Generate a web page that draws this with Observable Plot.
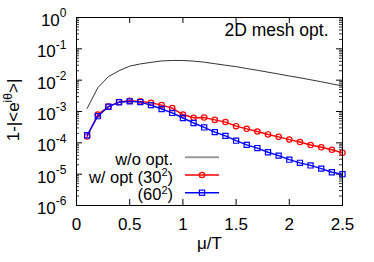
<!DOCTYPE html>
<html><head><meta charset="utf-8">
<script src="https://cdn.jsdelivr.net/npm/d3@7"></script>
<script src="https://cdn.jsdelivr.net/npm/@observablehq/plot@0.6"></script>
<style>html,body{margin:0;padding:0;background:#fff} svg{display:block}</style>
</head><body><div id="chart"></div>
<script>
const mu = [0.1,0.2,0.3,0.4,0.5,0.6,0.7,0.8,0.9,1.0,1.1,1.2,1.3,1.4,1.5,1.6,1.7,1.8,1.9,2.0,2.1,2.2,2.3,2.4,2.5];
const woOpt = [1.25e-3,5.7e-3,1.3e-2,2.0e-2,2.8e-2,3.3e-2,3.7e-2,4.1e-2,4.25e-2,4.25e-2,4.05e-2,3.75e-2,3.35e-2,3.0e-2,2.7e-2,2.35e-2,2.07e-2,1.8e-2,1.57e-2,1.36e-2,1.19e-2,1.03e-2,8.9e-3,7.6e-3,6.5e-3];
const opt30 = [1.6e-4,8.0e-4,1.45e-3,2.0e-3,2.2e-3,2.1e-3,1.9e-3,1.6e-3,1.28e-3,8.0e-4,6.3e-4,6.4e-4,5.4e-4,4.6e-4,3.4e-4,2.8e-4,2.3e-4,1.85e-4,1.55e-4,1.27e-4,1.06e-4,8.5e-5,7.2e-5,6.0e-5,4.8e-5];
const opt60 = [1.75e-4,7.1e-4,1.42e-3,1.97e-3,2.1e-3,2.0e-3,1.6e-3,1.2e-3,9.0e-4,6.2e-4,4.3e-4,3.1e-4,2.2e-4,1.67e-4,1.17e-4,8.6e-5,6.8e-5,5.0e-5,3.9e-5,2.9e-5,2.3e-5,1.9e-5,1.5e-5,1.15e-5,1.0e-5];
const xTicks = [0,0.5,1,1.5,2,2.5];
const xTickLabels = ["0","0.5","1","1.5","2","2.5"];
const yMajor = [1e-6,1e-5,1e-4,1e-3,1e-2,1e-1,1];
const yExponents = ["-6","-5","-4","-3","-2","-1","0"];
const yMinor = [];
for (let e = -6; e < 0; e++) for (let k = 2; k <= 9; k++) yMinor.push(k * Math.pow(10, e));
const xLabel = "μ/T";
const annotation = "2D mesh opt.";
const legendItems = [
  {pre: "w/o opt.", sup: "", post: "", color: "#999999", symbol: null},
  {pre: "w/ opt (30", sup: "2", post: ")", color: "#ff0000", symbol: "circle"},
  {pre: "(60", sup: "2", post: ")", color: "#0000ff", symbol: "square"}
];

const rows = mu.map((m, i) => ({mu: m, wo: woOpt[i], a: opt30[i], b: opt60[i]}));

const W = 374, H = 262, ML = 76, MR = 32, MT = 17, MB = 57;
const PW = W - ML - MR, PH = H - MT - MB;
const font = "'Liberation Sans', Arial, Helvetica, sans-serif";

const plot = Plot.plot({
  width: W, height: H,
  marginLeft: ML, marginRight: MR, marginTop: MT, marginBottom: MB,
  style: {fontFamily: font, fontSize: "17px", background: "#fff", color: "#000", overflow: "visible"},
  x: {domain: [0, 2.5]},
  y: {type: "log", domain: [1e-6, 1]},
  marks: [
    Plot.axisX(xTicks, {tickSize: 0, tickPadding: 12, tickFormat: d => xTickLabels[xTicks.indexOf(d)], label: null, fontSize: 17}),
    Plot.axisY(yMajor, {tickSize: 0, tickPadding: 10, dy: 3, tickFormat: d => yExponents[yMajor.indexOf(d)], label: null, fontSize: 17}),
    Plot.tickY(yMajor, {y: d => d, insetRight: PW - 6, stroke: "#000", strokeWidth: 1}),
    Plot.tickY(yMajor, {y: d => d, insetLeft: PW - 6, stroke: "#000", strokeWidth: 1}),
    Plot.tickY(yMinor, {y: d => d, insetRight: PW - 3, stroke: "#000", strokeWidth: 0.8}),
    Plot.tickY(yMinor, {y: d => d, insetLeft: PW - 3, stroke: "#000", strokeWidth: 0.8}),
    Plot.tickX(xTicks, {x: d => d, insetTop: PH - 6, stroke: "#000", strokeWidth: 1}),
    Plot.tickX(xTicks, {x: d => d, insetBottom: PH - 6, stroke: "#000", strokeWidth: 1}),
    Plot.lineY(rows, {x: "mu", y: "wo", stroke: "#333", strokeWidth: 1}),
    Plot.lineY(rows, {x: "mu", y: "a", stroke: "#ff0000", strokeWidth: 1.4}),
    Plot.dot(rows, {x: "mu", y: "a", symbol: "circle", r: 2.7, stroke: "#ff0000", strokeWidth: 1.2, fill: "none"}),
    Plot.lineY(rows, {x: "mu", y: "b", stroke: "#0000ff", strokeWidth: 1.4}),
    Plot.dot(rows, {x: "mu", y: "b", symbol: "square", r: 2.9, stroke: "#0000ff", strokeWidth: 1.2, fill: "none"}),
    Plot.text([xLabel], {text: d => d, frameAnchor: "bottom", dy: 43, fontSize: 17}),
    Plot.text([annotation], {text: d => d, frameAnchor: "top-right", textAnchor: "end", lineAnchor: "top", dx: -14, dy: 6, fontSize: 17.5}),
    Plot.frame({stroke: "#000", strokeWidth: 1})
  ]
});

const svg = d3.select(plot);
// superscript exponents on y tick labels
svg.selectAll('g[aria-label="y-axis tick label"] text').each(function() {
  const t = d3.select(this);
  const e = t.text();
  t.text(null);
  t.append("tspan").text("10");
  t.append("tspan").attr("font-size", 12).attr("dy", -8.5).text(e);
});

// y axis label
const yl = svg.append("text")
  .attr("transform", `translate(19,110) rotate(-90)`)
  .attr("text-anchor", "middle")
  .attr("font-family", font)
  .attr("font-size", 17)
  .attr("fill", "#000");
yl.append("tspan").text("1-|<e");
yl.append("tspan").attr("font-size", 12).attr("dy", -7.5).text("iθ");
yl.append("tspan").attr("dy", 7.5).text(">|");

// legend
const lg = svg.append("g").attr("font-family", font).attr("font-size", 16.5).attr("fill", "#000");
const rowY = [MT + PH - 47.7, MT + PH - 30, MT + PH - 12.3];
const textRight = ML + 97, lineX1 = ML + 109, lineX2 = ML + 143;
legendItems.forEach((it, i) => {
  const y = rowY[i];
  const tx = lg.append("text").attr("x", textRight).attr("y", y + 2).attr("dy", "0.35em").attr("text-anchor", "end");
  tx.append("tspan").text(it.pre);
  if (it.sup) {
    tx.append("tspan").attr("font-size", 11).attr("dy", -6.5).text(it.sup);
    tx.append("tspan").attr("dy", 6.5).text(it.post);
  }
  lg.append("line").attr("x1", lineX1).attr("x2", lineX2).attr("y1", y).attr("y2", y)
    .attr("stroke", it.color).attr("stroke-width", it.symbol ? 1.4 : 2);
  const cx = (lineX1 + lineX2) / 2;
  if (it.symbol === "circle") {
    lg.append("circle").attr("cx", cx).attr("cy", y).attr("r", 2.7).attr("fill", "none").attr("stroke", it.color).attr("stroke-width", 1.2);
  } else if (it.symbol === "square") {
    lg.append("rect").attr("x", cx - 2.6).attr("y", y - 2.6).attr("width", 5.2).attr("height", 5.2).attr("fill", "none").attr("stroke", it.color).attr("stroke-width", 1.2);
  }
});

document.getElementById("chart").appendChild(plot);
</script>
</body></html>
